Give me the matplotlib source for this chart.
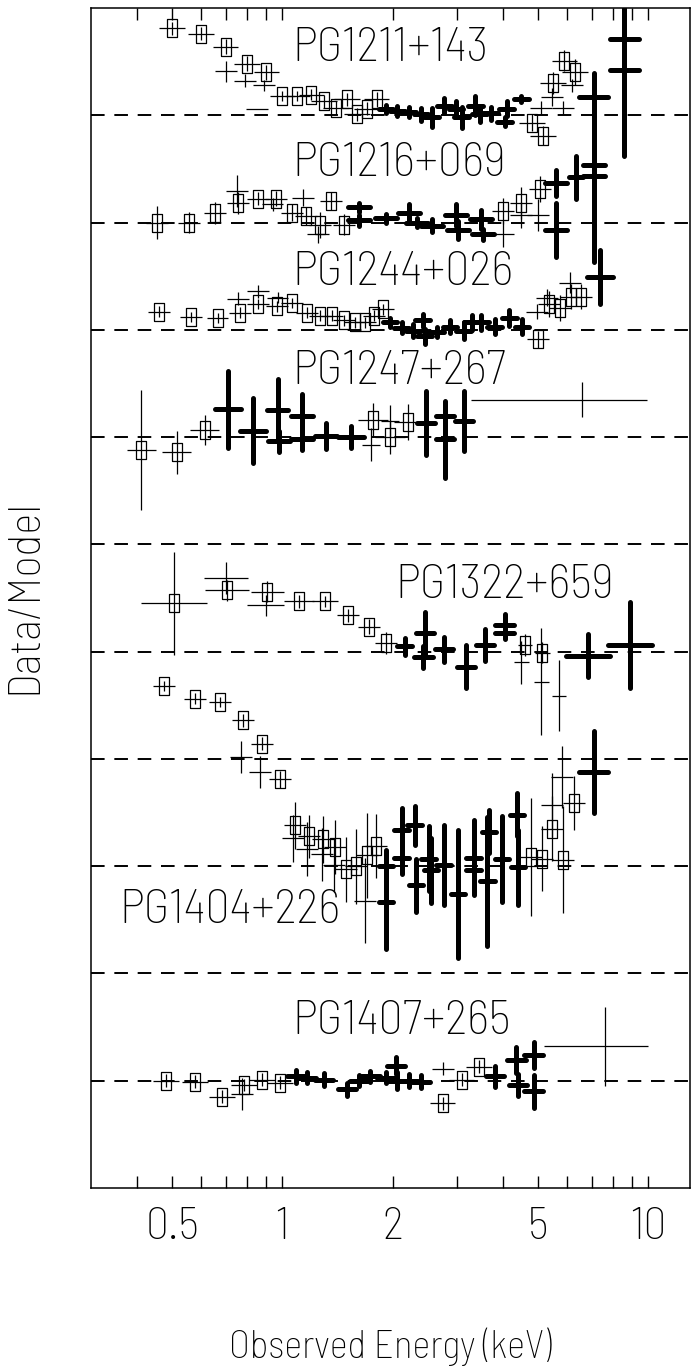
import numpy as np
import matplotlib
matplotlib.use("Agg")
import matplotlib.pyplot as plt
from matplotlib.ticker import FixedLocator, FixedFormatter, NullFormatter

plt.rcParams['font.family'] = ['Barlow Semi Condensed', 'Barlow Condensed', 'DejaVu Sans']
plt.rcParams['font.stretch'] = 'condensed'
plt.rcParams['font.weight'] = 250

# Data/Model ratios.  sq = open boxes, thin = plain crosses,
# thick = bold crosses.  dw = half bin width in dex.

# PG1211+143 (baseline 10)
pg1211_sq_e = [0.50, 0.60, 0.70, 0.80, 0.905, 1.0, 1.10, 1.20, 1.30, 1.40, 1.50, 1.60, 1.70, 1.81, 4.81, 5.15, 5.50, 5.90, 6.30]
pg1211_sq_r = [1.81, 1.76, 1.64, 1.48, 1.40, 1.18, 1.18, 1.19, 1.13, 1.07, 1.15, 1.01, 1.06, 1.15, 0.93, 0.81, 1.30, 1.51, 1.40]
pg1211_sq_err = [0.06, 0.06, 0.07, 0.07, 0.07, 0.05, 0.05, 0.05, 0.06, 0.06, 0.06, 0.06, 0.06, 0.07, 0.08, 0.09, 0.10, 0.10, 0.12]
pg1211_th_e = [0.70, 0.79, 0.89, 0.85, 5.10, 5.45, 5.85, 6.20]
pg1211_th_r = [1.41, 1.32, 1.28, 1.06, 1.07, 1.17, 1.07, 1.28]
pg1211_th_err = [0.10, 0.06, 0.05, 0.0, 0.06, 0.08, 0.06, 0.06]
pg1211_bk_e = [1.92, 2.06, 2.22, 2.39, 2.56, 2.77, 2.98, 3.09, 3.37, 3.46, 3.71, 4.05, 4.10, 4.50, 7.10, 8.60, 8.60]
pg1211_bk_r = [1.06, 1.04, 1.03, 1.01, 0.98, 1.09, 1.06, 0.98, 1.09, 1.01, 1.02, 0.94, 1.06, 1.15, 1.17, 1.71, 1.42]
pg1211_bk_err = [0.04, 0.05, 0.05, 0.06, 0.09, 0.07, 0.07, 0.10, 0.09, 0.07, 0.06, 0.04, 0.07, 0.03, 0.22, 0.30, 0.80]
pg1211_bk_dw = [0.02] * 14 + [0.04, 0.04, 0.04]

# PG1216+069 (baseline 9)
pg1216_sq_e = [0.455, 0.557, 0.653, 0.756, 0.86, 0.96, 1.06, 1.16, 1.27, 1.36, 1.47, 4.02, 4.50, 5.05]
pg1216_sq_r = [1.00, 1.00, 1.09, 1.18, 1.22, 1.22, 1.09, 1.06, 0.98, 1.20, 0.98, 1.11, 1.18, 1.31]
pg1216_sq_err = [0.15, 0.10, 0.10, 0.10, 0.06, 0.07, 0.08, 0.08, 0.12, 0.08, 0.10, 0.12, 0.15, 0.12]
pg1216_th_e = [0.75, 0.94, 1.14, 1.25, 4.0, 4.5, 5.0]
pg1216_th_r = [1.29, 1.17, 1.23, 0.89, 0.89, 1.07, 1.07]
pg1216_th_err = [0.15, 0.06, 0.08, 0.08, 0.12, 0.12, 0.15]
pg1216_bk_e = [1.62, 1.62, 1.92, 2.22, 2.33, 2.57, 2.98, 3.02, 3.50, 3.54, 5.60, 5.60, 6.35, 7.10, 7.10]
pg1216_bk_r = [1.14, 1.02, 1.04, 1.09, 1.00, 0.97, 1.07, 0.93, 1.03, 0.89, 1.37, 0.93, 1.42, 1.54, 1.43]
pg1216_bk_err = [0.04, 0.05, 0.04, 0.08, 0.04, 0.06, 0.10, 0.08, 0.09, 0.05, 0.12, 0.25, 0.20, 0.30, 0.80]
pg1216_bk_dw = [0.03] * 12 + [0.02, 0.03, 0.03]

# PG1244+026 (baseline 8)
pg1244_sq_e = [0.461, 0.564, 0.665, 0.767, 0.86, 0.966, 1.065, 1.17, 1.27, 1.37, 1.47, 1.58, 1.68, 1.78, 1.88, 5.0, 5.36, 5.73, 6.13, 6.56]
pg1244_sq_r = [1.17, 1.12, 1.11, 1.16, 1.24, 1.22, 1.25, 1.16, 1.13, 1.13, 1.09, 1.07, 1.07, 1.13, 1.19, 0.91, 1.24, 1.20, 1.31, 1.31]
pg1244_sq_err = [0.05] * 15 + [0.08, 0.12, 0.12, 0.12, 0.12]
pg1244_th_e = [0.756, 0.86, 0.97, 4.97, 5.30, 6.10]
pg1244_th_r = [1.29, 1.36, 1.30, 1.17, 1.30, 1.44]
pg1244_th_err = [0.06, 0.06, 0.05, 0.07, 0.08, 0.10]
pg1244_bk_e = [1.97, 2.12, 2.28, 2.42, 2.45, 2.64, 2.87, 3.13, 3.29, 3.50, 3.80, 4.17, 4.52, 7.38]
pg1244_bk_r = [1.07, 1.02, 0.99, 1.09, 0.94, 0.98, 1.03, 0.99, 1.07, 1.07, 1.03, 1.11, 1.03, 1.49]
pg1244_bk_err = [0.04, 0.05, 0.06, 0.06, 0.07, 0.05, 0.06, 0.08, 0.07, 0.07, 0.07, 0.07, 0.07, 0.25]
pg1244_bk_dw = [0.02] * 13 + [0.035]

# PG1247+267 (baseline 7)
pg1247_sq_e = [0.412, 0.514, 0.614, 1.77, 1.97, 2.21]
pg1247_sq_r = [0.88, 0.86, 1.07, 1.16, 1.00, 1.14]
pg1247_sq_err = [0.56, 0.20, 0.14, 0.16, 0.16, 0.17]
pg1247_th_e = [1.75, 1.97]
pg1247_th_r = [0.93, 1.15]
pg1247_th_err = [0.15, 0.15]
pg1247_bk_e = [0.71, 0.83, 0.97, 0.98, 1.13, 1.13, 1.32, 1.54, 2.47, 2.78, 2.78, 3.13]
pg1247_bk_r = [1.26, 1.06, 1.25, 0.96, 1.20, 0.98, 1.01, 1.00, 1.13, 0.98, 1.20, 1.15]
pg1247_bk_err = [0.36, 0.30, 0.29, 0.10, 0.20, 0.10, 0.12, 0.10, 0.30, 0.36, 0.10, 0.28]
pg1247_bk_dw = [0.035, 0.035, 0.03, 0.03, 0.03, 0.03, 0.03, 0.035, 0.025, 0.025, 0.025, 0.025]
pg1247_wide = (3.27, 9.95, 6.61, 1.35, 0.16)   # lo, hi, centre, ratio, err

# PG1322+659 (baseline 5)
pg1322_sq_e = [0.505, 0.706, 0.909, 1.11, 1.31, 1.51, 1.72, 1.92, 4.60, 5.13]
pg1322_sq_r = [1.45, 1.57, 1.56, 1.47, 1.47, 1.34, 1.23, 1.08, 1.06, 0.99]
pg1322_sq_err = [0.48, 0.10, 0.10, 0.06, 0.05, 0.06, 0.07, 0.10, 0.10, 0.10]
pg1322_sq_dw = [0.09, 0.06, 0.045, 0.04, 0.035, 0.03, 0.03, 0.03, 0.02, 0.02]
pg1322_th_e = [0.70, 0.90, 4.50, 5.10, 5.70]
pg1322_th_r = [1.69, 1.43, 0.90, 0.72, 0.59]
pg1322_th_err = [0.15, 0.10, 0.20, 0.50, 0.33]
pg1322_th_dw = [0.06, 0.05, 0.02, 0.02, 0.02]
pg1322_bk_e = [2.16, 2.45, 2.43, 2.77, 3.17, 3.58, 4.05, 4.05, 6.86, 8.90]
pg1322_bk_r = [1.05, 1.17, 0.95, 1.02, 0.86, 1.06, 1.25, 1.17, 0.96, 1.06]
pg1322_bk_err = [0.08, 0.20, 0.10, 0.12, 0.20, 0.15, 0.10, 0.05, 0.20, 0.40]
pg1322_bk_dw = [0.02, 0.025, 0.025, 0.025, 0.025, 0.025, 0.025, 0.025, 0.06, 0.06]

# PG1404+226 (baseline 3)
pg1404_sq_e = [0.475, 0.578, 0.677, 0.781, 0.88, 0.983, 1.08, 1.18, 1.29, 1.39, 1.49, 1.59, 1.70, 1.80, 4.79, 5.11, 5.47, 5.86, 6.27]
pg1404_sq_r = [2.68, 2.56, 2.53, 2.36, 2.14, 1.81, 1.38, 1.28, 1.25, 1.18, 0.97, 1.00, 1.10, 1.19, 1.09, 1.07, 1.35, 1.06, 1.59]
pg1404_sq_err = [0.05, 0.05, 0.05, 0.06, 0.06, 0.08, 0.22, 0.20, 0.22, 0.25, 0.30, 0.35, 0.40, 0.30, 0.55, 0.30, 0.30, 0.50, 0.25]
pg1404_th_e = [0.77, 0.87, 1.07, 1.17, 1.28, 1.38, 1.68, 5.45, 5.80]
pg1404_th_r = [2.02, 1.88, 1.26, 1.16, 1.11, 1.01, 0.68, 1.57, 1.83]
pg1404_th_err = [0.15, 0.15, 0.22, 0.25, 0.25, 0.25, 0.40, 0.30, 0.29]
pg1404_bk_e = [1.92, 1.92, 2.12, 2.12, 2.30, 2.32, 2.51, 2.55, 2.76, 3.02, 3.33, 3.33, 3.63, 3.67, 3.98, 4.38, 4.41, 7.10]
pg1404_bk_r = [0.67, 1.00, 1.34, 1.08, 1.38, 0.82, 1.07, 0.96, 1.01, 0.74, 1.08, 0.96, 0.86, 1.32, 1.07, 1.48, 0.99, 1.88]
pg1404_bk_err = [0.44, 0.15, 0.20, 0.15, 0.18, 0.25, 0.30, 0.30, 0.37, 0.60, 0.35, 0.20, 0.60, 0.20, 0.40, 0.20, 0.35, 0.38]
pg1404_bk_dw = [0.02] * 17 + [0.04]

# PG1407+265 (baseline 1)
pg1407_sq_e = [0.48, 0.578, 0.683, 0.785, 0.88, 0.985, 2.74, 3.09, 3.45]
pg1407_sq_r = [1.00, 0.99, 0.85, 0.96, 1.01, 0.98, 0.79, 1.01, 1.13]
pg1407_sq_err = [0.06] * 9
pg1407_th_e = [0.775, 2.74]
pg1407_th_r = [0.88, 1.11]
pg1407_th_err = [0.15, 0.06]
pg1407_bk_e = [1.09, 1.17, 1.30, 1.50, 1.62, 1.74, 1.92, 2.04, 2.06, 2.22, 2.39, 3.81, 4.36, 4.41, 4.86, 4.86]
pg1407_bk_r = [1.04, 1.03, 1.01, 0.92, 1.00, 1.04, 1.03, 1.14, 1.00, 1.00, 0.99, 1.04, 1.19, 0.96, 1.24, 0.90]
pg1407_bk_err = [0.06, 0.05, 0.06, 0.06, 0.05, 0.05, 0.05, 0.08, 0.08, 0.06, 0.06, 0.10, 0.12, 0.10, 0.12, 0.15]
pg1407_bk_dw = 0.025
pg1407_wide = (5.18, 10.0, 7.6, 1.32, 0.37)

names = ['PG1211+143', 'PG1216+069', 'PG1244+026', 'PG1247+267', 'PG1322+659', 'PG1404+226', 'PG1407+265']
baselines = [10, 9, 8, 7, 5, 3, 1]
label_x = [1.065, 1.065, 1.065, 1.065, 2.035, 0.359, 1.065]
label_y = [10.62, 9.55, 8.53, 7.61, 5.61, 2.58, 1.545]

rect = [(-0.28, -0.5), (0.28, -0.5), (0.28, 0.5), (-0.28, 0.5), (-0.28, -0.5)]


def log_xerr(e, dw):
    e = np.asarray(e, float)
    dw = np.broadcast_to(np.asarray(dw, float), e.shape)
    return [e - e * 10 ** (-dw), e * 10 ** dw - e]


def draw(ax, e, r, err, dw, off, kind):
    e = np.asarray(e, float)
    y = np.asarray(r, float) + off
    xe = log_xerr(e, dw)
    if kind == 'bk':
        _, _, bars = ax.errorbar(e, y, yerr=err, xerr=xe, fmt='none', ecolor='k', elinewidth=3.6)
        for b in bars:
            b.set_capstyle('round')
    else:
        ax.errorbar(e, y, yerr=err, xerr=xe, fmt='none', ecolor='k', elinewidth=0.9)
        if kind == 'sq':
            ax.plot(e, y, ls='none', marker=rect, ms=13, mfc='none', mec='k', mew=0.9)


fig = plt.figure(figsize=(6.99, 13.72), dpi=100)
ax = fig.add_axes([0.1302, 0.1341, 0.8569, 0.8601])

for b in range(1, 11):
    ax.axhline(b, color='k', lw=1.4, ls=(0, (7, 5)), zorder=0)

groups = [
    (pg1211_sq_e, pg1211_sq_r, pg1211_sq_err, 0.035, pg1211_th_e, pg1211_th_r, pg1211_th_err, 0.03,
     pg1211_bk_e, pg1211_bk_r, pg1211_bk_err, pg1211_bk_dw),
    (pg1216_sq_e, pg1216_sq_r, pg1216_sq_err, 0.03, pg1216_th_e, pg1216_th_r, pg1216_th_err, 0.03,
     pg1216_bk_e, pg1216_bk_r, pg1216_bk_err, pg1216_bk_dw),
    (pg1244_sq_e, pg1244_sq_r, pg1244_sq_err, 0.03, pg1244_th_e, pg1244_th_r, pg1244_th_err, 0.03,
     pg1244_bk_e, pg1244_bk_r, pg1244_bk_err, pg1244_bk_dw),
    (pg1247_sq_e, pg1247_sq_r, pg1247_sq_err, 0.04, pg1247_th_e, pg1247_th_r, pg1247_th_err, 0.025,
     pg1247_bk_e, pg1247_bk_r, pg1247_bk_err, pg1247_bk_dw),
    (pg1322_sq_e, pg1322_sq_r, pg1322_sq_err, pg1322_sq_dw, pg1322_th_e, pg1322_th_r, pg1322_th_err, pg1322_th_dw,
     pg1322_bk_e, pg1322_bk_r, pg1322_bk_err, pg1322_bk_dw),
    (pg1404_sq_e, pg1404_sq_r, pg1404_sq_err, 0.03, pg1404_th_e, pg1404_th_r, pg1404_th_err, 0.03,
     pg1404_bk_e, pg1404_bk_r, pg1404_bk_err, pg1404_bk_dw),
    (pg1407_sq_e, pg1407_sq_r, pg1407_sq_err, 0.035, pg1407_th_e, pg1407_th_r, pg1407_th_err, 0.03,
     pg1407_bk_e, pg1407_bk_r, pg1407_bk_err, pg1407_bk_dw),
]

for g, base in zip(groups, baselines):
    off = base - 1
    draw(ax, g[0], g[1], g[2], g[3], off, 'sq')
    draw(ax, g[4], g[5], g[6], g[7], off, 'thin')
    draw(ax, g[8], g[9], g[10], g[11], off, 'bk')

for wide, base in [(pg1247_wide, 7), (pg1407_wide, 1)]:
    lo, hi, c, r, err = wide
    ax.errorbar([c], [r + base - 1], yerr=[err], xerr=[[c - lo], [hi - c]],
                fmt='none', ecolor='k', elinewidth=0.9)

for name, lx, ly in zip(names, label_x, label_y):
    ax.text(lx, ly, name, ha='left', va='center', fontsize=35)

ax.set_xscale('log')
ax.set_xlim(0.3, 13.0)
ax.set_ylim(0, 11)
ax.set_yticks([])

ax.xaxis.set_major_locator(FixedLocator([0.5, 1, 2, 5, 10]))
ax.xaxis.set_major_formatter(FixedFormatter(['0.5', '1', '2', '5', '10']))
ax.xaxis.set_minor_locator(FixedLocator([0.4, 0.6, 0.7, 0.8, 0.9, 3, 4, 6, 7, 8, 9]))
ax.xaxis.set_minor_formatter(NullFormatter())
ax.tick_params(axis='x', which='both', direction='in', top=True, width=1.0, labelsize=33, pad=14)
ax.tick_params(axis='x', which='major', length=8.6)
ax.tick_params(axis='x', which='minor', length=8.6)
for t in ax.xaxis.get_major_ticks():
    if t.get_loc() in (1, 10):
        t.tick1line.set_markersize(17)
        t.tick2line.set_markersize(17)

for s in ax.spines.values():
    s.set_linewidth(1.1)

fig.text(0.036, 0.565, 'Data/Model', rotation=90, ha='center', va='center', fontsize=33)
fig.text(0.558, 0.0185, 'Observed Energy (keV)', ha='center', va='center', fontsize=28)

fig.savefig('out.png', dpi=100)
